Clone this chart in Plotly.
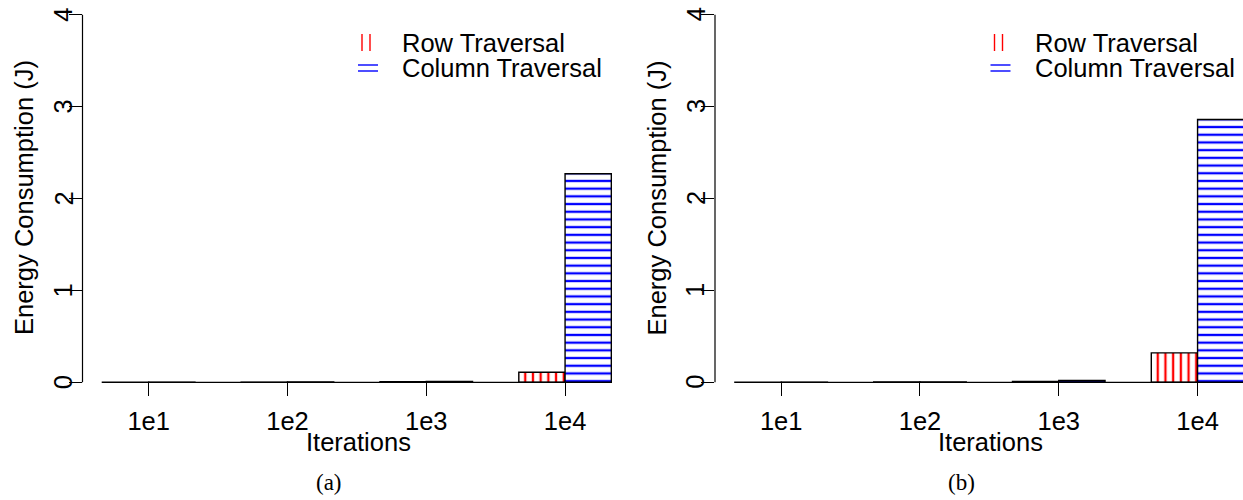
import plotly.graph_objects as go

W, H = 1243, 500

# Data: energy consumption (J) per number of iterations
iterations = ["1e1", "1e2", "1e3", "1e4"]
row_a = [0.001, 0.002, 0.006, 0.11]
col_a = [0.001, 0.003, 0.010, 2.27]
row_b = [0.001, 0.003, 0.010, 0.32]
col_b = [0.002, 0.004, 0.020, 2.86]

y_ticks = [0, 1, 2, 3, 4]
series_names = ["Row Traversal", "Column Traversal"]
panel_captions = ["(a)", "(b)"]

SANS = "Liberation Sans, Arial, Helvetica, sans-serif"
SERIF = "Liberation Serif, Times New Roman, serif"
FS = 25.5


def px(x):
    return x / W


def py(y):
    return 1 - y / H


# pixel geometry of the two panels
unit = 138.8                 # pixels per category step
ext = 0.4767                 # range padding beyond outer bars (category units)
left_a = 82.5
left_b = 715.0
y_top, y_bot = 0.0, 397.0
y_range = [-0.16, 4.16]
y_zero_px = y_bot - (0 - y_range[0]) / (y_range[1] - y_range[0]) * (y_bot - y_top)

span = (3 + 2 * ext) * unit
right_a = left_a + span
range_a = [-ext, 3 + ext]
range_b = [-ext, -ext + (W - left_b) / unit]

fig = go.Figure()


def add_panel(rows, cols, xa, ya):
    for vals, name, colr, shape in [
        (rows, series_names[0], "red", "|"),
        (cols, series_names[1], "blue", "-"),
    ]:
        fig.add_trace(go.Bar(
            x=iterations, y=vals, name=name, xaxis=xa, yaxis=ya,
            offsetgroup=name, showlegend=False,
            marker=dict(
                color="white",
                line=dict(color="black", width=1.4),
                pattern=dict(shape=shape, fgcolor=colr, bgcolor="white",
                             size=7.7, solidity=0.3, fgopacity=1,
                             fillmode="overlay"),
            ),
            hoverinfo="skip",
        ))


add_panel(row_a, col_a, "x", "y")
add_panel(row_b, col_b, "x2", "y2")

xaxis_common = dict(
    type="category", showgrid=False, zeroline=False, showline=False,
    ticks="outside", ticklen=13, tickwidth=1.2, tickcolor="black",
    tickfont=dict(family=SANS, size=FS, color="black"),
    ticklabelstandoff=3, anchor="free", position=py(y_zero_px),
)
yaxis_common = dict(
    range=y_range, tickvals=y_ticks, showticklabels=False,
    showgrid=False, zeroline=False, showline=False,
    ticks="outside", ticklen=13, tickwidth=1.2, tickcolor="black",
    domain=[py(y_bot), py(y_top)],
)

fig.update_layout(
    width=W, height=H,
    margin=dict(l=0, r=0, t=0, b=0),
    paper_bgcolor="white", plot_bgcolor="rgba(0,0,0,0)",
    barmode="group", bargap=1 / 3, bargroupgap=0,
    xaxis=dict(xaxis_common, domain=[px(left_a), px(right_a)], range=range_a),
    xaxis2=dict(xaxis_common, domain=[px(left_b), 1.0], range=range_b),
    yaxis=dict(yaxis_common, anchor="x"),
    yaxis2=dict(yaxis_common, anchor="x2"),
)

shapes = []
annotations = []
for i, (xa, ya, left) in enumerate([("x", "y", left_a), ("x2", "y2", left_b)]):
    dx = left - left_a
    # y axis line from 0 to 4
    shapes.append(dict(type="line", xref=f"{xa} domain", yref=ya,
                       x0=0, x1=0, y0=y_ticks[0], y1=y_ticks[-1],
                       line=dict(color="black", width=1.2)))
    # x axis line under the groups
    shapes.append(dict(type="line", xref=xa, yref=ya,
                       x0=0, x1=3, y0=0, y1=0,
                       line=dict(color="black", width=1.2)))
    # rotated y tick labels
    for v in y_ticks:
        annotations.append(dict(text=str(v), xref="paper", yref=ya,
                                x=px(63 + dx), y=v, xanchor="center",
                                yanchor="middle", textangle=-90, showarrow=False,
                                borderpad=0,
                                font=dict(family=SANS, size=FS, color="black")))
    # legend keys
    for xk in (362, 370):
        shapes.append(dict(type="line", xref="paper", yref="paper",
                           x0=px(xk + dx), x1=px(xk + dx), y0=py(34), y1=py(51),
                           line=dict(color="red", width=1.4)))
    for yk in (65, 71):
        shapes.append(dict(type="line", xref="paper", yref="paper",
                           x0=px(358 + dx), x1=px(378 + dx), y0=py(yk), y1=py(yk),
                           line=dict(color="blue", width=1.4)))
    for txt, yc in zip(series_names, (43, 68)):
        annotations.append(dict(text=txt, xref="paper", yref="paper",
                                x=px(401 + dx), y=py(yc), xanchor="left",
                                yanchor="middle", showarrow=False, borderpad=0,
                                font=dict(family=SANS, size=FS, color="black")))
    # axis titles
    annotations.append(dict(text="Iterations", xref="paper", yref="paper",
                            x=px(358 + dx), y=py(442), xanchor="center",
                            yanchor="middle", showarrow=False,
                            font=dict(family=SANS, size=FS, color="black")))
    annotations.append(dict(text="Energy Consumption (J)", xref="paper", yref="paper",
                            x=px(24 + dx), y=py(198), xanchor="center",
                            yanchor="middle", textangle=-90, showarrow=False,
                            font=dict(family=SANS, size=FS, color="black")))
    # panel caption
    annotations.append(dict(text=panel_captions[i], xref="paper", yref="paper",
                            x=px(329 + dx), y=py(482), xanchor="center",
                            yanchor="middle", showarrow=False,
                            font=dict(family=SERIF, size=23, color="black")))

fig.update_layout(shapes=shapes, annotations=annotations)
fig.write_html("out.html")
